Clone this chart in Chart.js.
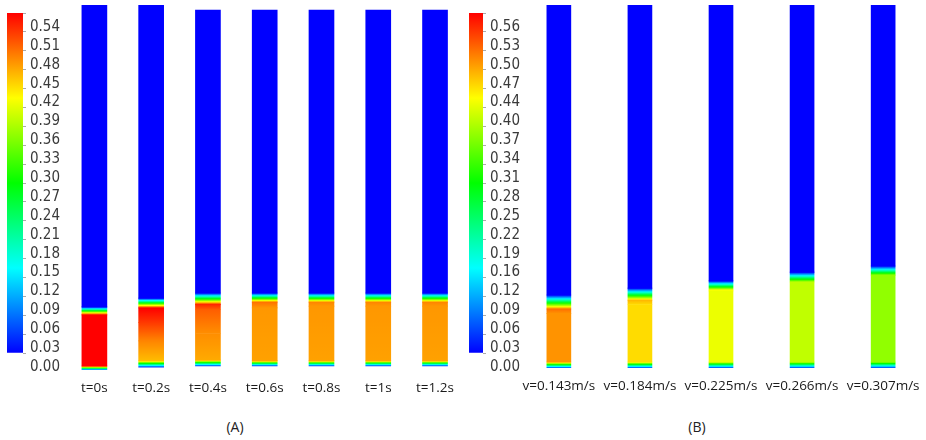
<!DOCTYPE html>
<html>
<head>
<meta charset="utf-8">
<script src="https://cdn.jsdelivr.net/npm/chart.js@4.4.1/dist/chart.umd.min.js"></script>
<style>
    html, body { margin: 0; padding: 0; background: #fff; overflow: hidden; }
    body { width: 926px; height: 440px; position: relative; }
    .box { position: absolute; top: 0; }
    .panel-title { position: absolute; top: 417px; font: 14px "Open Sans", sans-serif; color: #222; transform: translateX(-50%); }
</style>
</head>
<body>
<div class="box" style="left:0px;width:70px;height:385px"><canvas id="barA"></canvas></div>
<div class="box" style="left:66px;width:398px;height:400px"><canvas id="panelA"></canvas></div>
<div class="box" style="left:462px;width:70px;height:385px"><canvas id="barB"></canvas></div>
<div class="box" style="left:513px;width:416px;height:398px"><canvas id="panelB"></canvas></div>
<div class="panel-title" style="left:235px">(A)</div>
<div class="panel-title" style="left:697px">(B)</div>

<script>
// Colour bar ranges and labels (volume fraction)
const maxA = 0.54;
const maxB = 0.5607;
const scaleLabelsA = ['0.00','0.03','0.06','0.09','0.12','0.15','0.18','0.21','0.24','0.27',
                      '0.30','0.33','0.36','0.39','0.42','0.45','0.48','0.51','0.54'];
const scaleLabelsB = ['0.00','0.03','0.06','0.09','0.12','0.16','0.19','0.22','0.25','0.28',
                      '0.31','0.34','0.37','0.40','0.44','0.47','0.50','0.53','0.56'];

// Panel A: time series of the bed
const timeLabels = ['t=0s', 't=0.2s', 't=0.4s', 't=0.6s', 't=0.8s', 't=1s', 't=1.2s'];
// each column: [height (fraction of column), volume fraction] from bottom to top
const profilesA = [
    [[0, 0.03], [0.011, 0.54], [0.151, 0.54], [0.173, 0], [1, 0]],
    [[0.008, 0.03], [0.025, 0.44], [0.08, 0.47], [0.13, 0.51], [0.170, 0.54], [0.197, 0], [1, 0]],
    [[0.011, 0.03], [0.027, 0.45], [0.10, 0.465], [0.165, 0.49], [0.180, 0.52], [0.211, 0], [0.986, 0]],
    [[0.011, 0.03], [0.025, 0.455], [0.170, 0.46], [0.186, 0.48], [0.211, 0], [0.986, 0]],
    [[0.011, 0.03], [0.025, 0.455], [0.175, 0.46], [0.186, 0.47], [0.211, 0], [0.986, 0]],
    [[0.011, 0.03], [0.025, 0.455], [0.175, 0.46], [0.186, 0.47], [0.211, 0], [0.986, 0]],
    [[0.011, 0.03], [0.025, 0.455], [0.175, 0.46], [0.186, 0.47], [0.211, 0], [0.986, 0]]
];

// Panel B: inlet velocity series
const velocityLabels = ['v=0.143m/s', 'v=0.184m/s', 'v=0.225m/s', 'v=0.266m/s', 'v=0.307m/s'];
const profilesB = [
    [[0, 0.03], [0.0165, 0.48], [0.150, 0.48], [0.1625, 0.50], [0.201, 0], [1, 0]],
    [[0, 0.03], [0.0165, 0.44], [0.175, 0.44], [0.187, 0.46], [0.220, 0], [1, 0]],
    [[0, 0.03], [0.0165, 0.41], [0.212, 0.41], [0.215, 0.42], [0.240, 0], [1, 0]],
    [[0, 0.03], [0.0165, 0.386], [0.237, 0.386], [0.264, 0], [1, 0]],
    [[0, 0.03], [0.0165, 0.36], [0.256, 0.36], [0.281, 0], [1, 0]]
];

// Fluent-style rainbow: blue -> cyan -> green -> yellow -> red
function jet(t) {
    t = Math.max(0, Math.min(1, t));
    let r, g, b;
    if (t < 0.25) { r = 0; g = 4 * t; b = 1; }
    else if (t < 0.5) { r = 0; g = 1; b = 1 - 4 * (t - 0.25); }
    else if (t < 0.75) { r = 4 * (t - 0.5); g = 1; b = 0; }
    else { r = 1; g = 1 - 4 * (t - 0.75); b = 0; }
    return `rgb(${Math.round(r * 255)},${Math.round(g * 255)},${Math.round(b * 255)})`;
}

// turn profiles into floating bar segments
function buildSegments(labels, profiles) {
    const segs = [];
    profiles.forEach((pts, i) => {
        for (let k = 0; k < pts.length - 1; k++) {
            segs.push({ x: labels[i], y: [pts[k][0], pts[k + 1][0]], v0: pts[k][1], v1: pts[k + 1][1] });
        }
    });
    return segs;
}

function segmentFill(max) {
    return (ctx) => {
        const raw = ctx.raw;
        const yScale = ctx.chart.scales.y;
        if (!raw || !yScale) return '#0000ff';
        const p0 = yScale.getPixelForValue(raw.y[0]);
        const p1 = yScale.getPixelForValue(raw.y[1]);
        if (!isFinite(p0) || !isFinite(p1) || p0 === p1) return jet(raw.v0 / max);
        const grad = ctx.chart.ctx.createLinearGradient(0, p0, 0, p1);
        const steps = 12;
        for (let s = 0; s <= steps; s++) {
            const f = s / steps;
            grad.addColorStop(f, jet((raw.v0 + (raw.v1 - raw.v0) * f) / max));
        }
        return grad;
    };
}

const labelFont = { family: '"Open Sans", sans-serif', size: 13.5 };

function makePanel(id, labels, profiles, max, thickness) {
    return new Chart(document.getElementById(id), {
        type: 'bar',
        data: {
            labels: labels,
            datasets: [{
                data: buildSegments(labels, profiles),
                backgroundColor: segmentFill(max),
                borderWidth: 0,
                barThickness: thickness
            }]
        },
        options: {
            responsive: true,
            maintainAspectRatio: false,
            animation: false,
            layout: { padding: { top: 5, left: 0, right: 0, bottom: 0 } },
            plugins: { legend: { display: false }, tooltip: { enabled: false } },
            scales: {
                x: {
                    type: 'category',
                    offset: true,
                    grid: { display: false, drawTicks: false },
                    border: { display: false },
                    ticks: { color: '#1a1a1a', font: labelFont, padding: 10, maxRotation: 0, autoSkip: false },
                    afterFit: (scale) => { scale.height = 30; }
                },
                y: { type: 'linear', min: 0, max: 1, display: false }
            }
        }
    });
}

function makeColorBar(id, tickLabels, max, axisWidth) {
    return new Chart(document.getElementById(id), {
        type: 'bar',
        data: {
            labels: [''],
            datasets: [{
                data: [[0, max]],
                backgroundColor: (ctx) => {
                    const area = ctx.chart.chartArea;
                    if (!area) return '#0000ff';
                    const grad = ctx.chart.ctx.createLinearGradient(0, area.bottom, 0, area.top);
                    for (let s = 0; s <= 40; s++) grad.addColorStop(s / 40, jet(s / 40));
                    return grad;
                },
                borderWidth: 0,
                categoryPercentage: 1,
                barPercentage: 1
            }]
        },
        options: {
            responsive: true,
            maintainAspectRatio: false,
            animation: false,
            layout: { padding: { top: 10, left: 7, right: 0, bottom: 32 } },
            plugins: { legend: { display: false }, tooltip: { enabled: false } },
            scales: {
                x: { display: false, offset: true },
                y: {
                    type: 'linear',
                    position: 'right',
                    min: 0,
                    max: max,
                    grid: { drawOnChartArea: false, drawTicks: true, tickLength: 3, color: '#aaa' },
                    border: { display: false },
                    afterBuildTicks: (scale) => {
                        scale.ticks = tickLabels.map((_, i) => ({ value: i * max / (tickLabels.length - 1) }));
                    },
                    afterFit: (scale) => { scale.width = axisWidth; },
                    ticks: {
                        autoSkip: false,
                        padding: 4,
                        labelOffset: 14,
                        color: '#3a3a3a',
                        font: { family: '"Liberation Sans Narrow", "DejaVu Sans Condensed", sans-serif', size: 15 },
                        callback: (value, index) => tickLabels[index]
                    }
                }
            }
        }
    });
}

makeColorBar('barA', scaleLabelsA, maxA, 47);
makeColorBar('barB', scaleLabelsB, maxB, 49);
makePanel('panelA', timeLabels, profilesA, maxA, 25);
makePanel('panelB', velocityLabels, profilesB, maxB, 24);
</script>
</body>
</html>
